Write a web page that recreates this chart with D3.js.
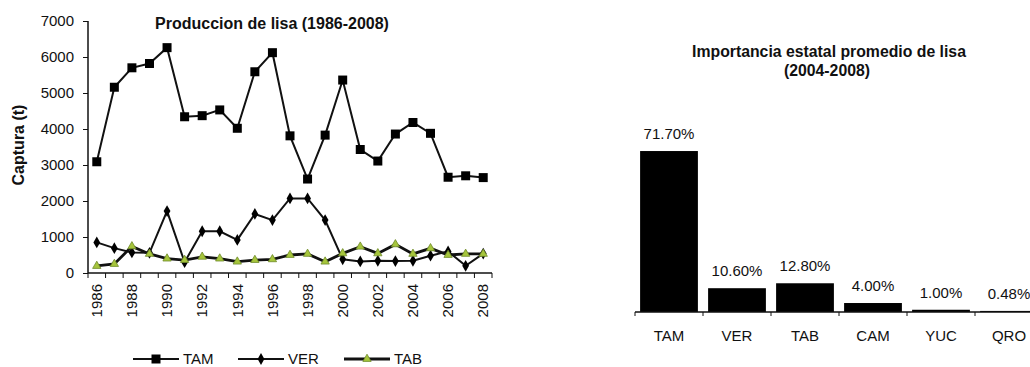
<!DOCTYPE html>
<html>
<head>
<meta charset="utf-8">
<script src="https://d3js.org/d3.v7.min.js"></script>
<style>
  body { margin: 0; background: #fff; }
  text { font-family: "Liberation Sans", Arial, sans-serif; fill: #111; }
</style>
</head>
<body>
<div id="chart"></div>
<script>
// data
var years = d3.range(1986, 2009);
var tam = [3090, 5160, 5700, 5820, 6260, 4340, 4370, 4530, 4020, 5590, 6120, 3810,
  2610, 3830, 5360, 3430, 3110, 3860, 4180, 3880, 2660, 2700, 2650];
var ver = [850, 690, 570, 560, 1720, 300, 1160, 1160, 920, 1640, 1470, 2070,
  2070, 1470, 380, 320, 340, 330, 340, 480, 600, 200, 540];
var tab = [195, 250, 740, 530, 400, 360, 450, 400, 315, 360, 380, 500,
  530, 315, 545, 730, 545, 795, 530, 685, 500, 530, 530];
var yTicks = [0, 1000, 2000, 3000, 4000, 5000, 6000, 7000];

var states = ["TAM", "VER", "TAB", "CAM", "YUC", "QRO"];
var shares = [71.7, 10.6, 12.8, 4.0, 1.0, 0.48];
var shareLabels = ["71.70%", "10.60%", "12.80%", "4.00%", "1.00%", "0.48%"];

var width = 1030, height = 367;

var svg = d3.select("#chart")
  .append("svg")
  .attr("width", width)
  .attr("height", height);

// ---------- line chart ----------
var x = d3.scalePoint().domain(years).range([88, 492]).padding(0.5);
var y = d3.scaleLinear().domain([0, 7000]).range([273, 21]);
var step = x.step();

var left = svg.append("g");

// y axis
left.append("g")
  .attr("transform", "translate(88,0)")
  .call(d3.axisLeft(y).tickValues(yTicks).tickSize(5).tickPadding(9).tickFormat(d3.format("d")))
  .call(g => g.select(".domain").attr("stroke", "#111").attr("stroke-width", 1.5).attr("d", "M0,21V273"))
  .call(g => g.selectAll("line").attr("stroke", "#111"))
  .call(g => g.selectAll("text").attr("font-size", 15).attr("font-family", "Liberation Sans, Arial").attr("fill", "#111"));

// x axis, ticks between categories
var bounds = d3.range(years.length + 1).map(i => 88 + i * step);
left.append("line")
  .attr("x1", 88).attr("x2", 492)
  .attr("y1", 273).attr("y2", 273)
  .attr("stroke", "#111").attr("stroke-width", 1.5);
left.selectAll(".xtick")
  .data(bounds)
  .enter().append("line")
  .attr("x1", d => d).attr("x2", d => d)
  .attr("y1", 273).attr("y2", 278)
  .attr("stroke", "#111");
left.selectAll(".xlab")
  .data(years.filter(d => d % 2 === 0))
  .enter().append("text")
  .attr("transform", d => "translate(" + x(d) + ",284) rotate(-90)")
  .attr("dy", "0.35em")
  .attr("text-anchor", "end")
  .attr("font-size", 15)
  .text(d => d);

// title and y label
left.append("text")
  .attr("x", 272).attr("y", 29)
  .attr("text-anchor", "middle")
  .attr("font-size", 16).attr("font-weight", "bold")
  .text("Produccion de lisa (1986-2008)");
left.append("text")
  .attr("transform", "translate(24,145) rotate(-90)")
  .attr("text-anchor", "middle")
  .attr("font-size", 16).attr("font-weight", "bold")
  .text("Captura (t)");

var line = d3.line().x((d, i) => x(years[i])).y(d => y(d));

var series = [
  { name: "TAM", values: tam, width: 2, shape: d3.symbolSquare, size: 81, fill: "#000", stroke: "none" },
  { name: "VER", values: ver, width: 2, shape: d3.symbolDiamond, size: 40, fill: "#000", stroke: "none" },
  { name: "TAB", values: tab, width: 2.8, shape: d3.symbolTriangle, size: 30, fill: "#a6c53c", stroke: "#6f8a2a" }
];

series.forEach(s => {
  left.append("path")
    .datum(s.values)
    .attr("d", line)
    .attr("fill", "none")
    .attr("stroke", "#111")
    .attr("stroke-width", s.width);
  left.selectAll(".pt-" + s.name)
    .data(s.values)
    .enter().append("path")
    .attr("transform", (d, i) => "translate(" + x(years[i]) + "," + y(d) + ")")
    .attr("d", d3.symbol().type(s.shape).size(s.size))
    .attr("fill", s.fill)
    .attr("stroke", s.stroke)
    .attr("stroke-width", 0.8);
});

// legend
var legendX = [133, 238, 344];
series.forEach((s, i) => {
  var lg = left.append("g").attr("transform", "translate(" + legendX[i] + ",359)");
  lg.append("line")
    .attr("x1", 0).attr("x2", 46)
    .attr("stroke", "#111").attr("stroke-width", s.width);
  lg.append("path")
    .attr("transform", "translate(23,0)")
    .attr("d", d3.symbol().type(s.shape).size(s.size))
    .attr("fill", s.fill)
    .attr("stroke", s.stroke)
    .attr("stroke-width", 0.8);
  lg.append("text")
    .attr("x", 50).attr("y", 5)
    .attr("font-size", 15)
    .text(s.name);
});

// ---------- bar chart ----------
var xb = d3.scaleBand().domain(states).range([635, 1043]).paddingInner(0.15).paddingOuter(0.075);
var yb = d3.scaleLinear().domain([0, 100]).range([312, 87.5]);

var right = svg.append("g");

right.append("text")
  .attr("x", 829).attr("y", 57)
  .attr("text-anchor", "middle")
  .attr("font-size", 15.8).attr("font-weight", "bold")
  .text("Importancia estatal promedio de lisa");
right.append("text")
  .attr("x", 827).attr("y", 76)
  .attr("text-anchor", "middle")
  .attr("font-size", 15.8).attr("font-weight", "bold")
  .text("(2004-2008)");

right.selectAll(".bar")
  .data(states)
  .enter().append("rect")
  .attr("class", "bar")
  .attr("x", d => xb(d))
  .attr("y", (d, i) => yb(shares[i]))
  .attr("width", xb.bandwidth())
  .attr("height", (d, i) => 312 - yb(shares[i]))
  .attr("fill", "#000");

right.selectAll(".val")
  .data(states)
  .enter().append("text")
  .attr("x", d => xb(d) + xb.bandwidth() / 2)
  .attr("y", (d, i) => yb(shares[i]) - 12)
  .attr("text-anchor", "middle")
  .attr("font-size", 15)
  .text((d, i) => shareLabels[i]);

// category axis
right.append("line")
  .attr("x1", 635).attr("x2", 1043)
  .attr("y1", 312).attr("y2", 312)
  .attr("stroke", "#111").attr("stroke-width", 1.5);
right.selectAll(".btick")
  .data(d3.range(states.length + 1))
  .enter().append("line")
  .attr("x1", i => 635 + i * xb.step()).attr("x2", i => 635 + i * xb.step())
  .attr("y1", 312).attr("y2", 316)
  .attr("stroke", "#111");
right.selectAll(".cat")
  .data(states)
  .enter().append("text")
  .attr("x", d => xb(d) + xb.bandwidth() / 2)
  .attr("y", 341)
  .attr("text-anchor", "middle")
  .attr("font-size", 15)
  .text(d => d);
</script>
</body>
</html>
